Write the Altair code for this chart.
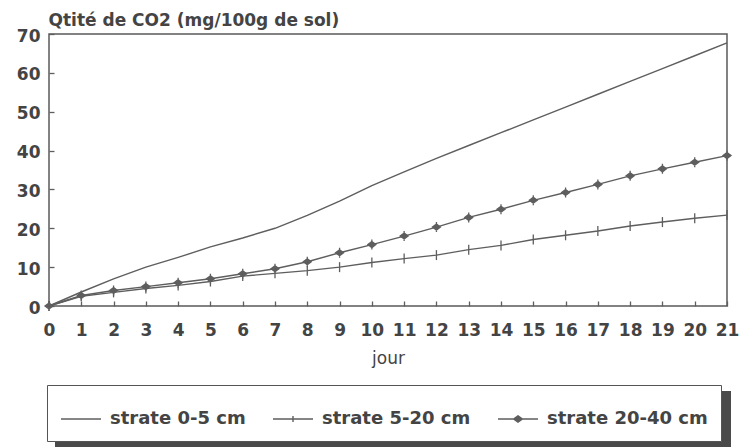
import altair as alt
import pandas as pd

# ---- data ----
days = list(range(22))
series_names = ["strate 0-5 cm", "strate 5-20 cm", "strate 20-40 cm"]
s0_5 = [0, 3.6, 7, 10, 12.5, 15.2, 17.5, 20, 23.3, 27, 31,
        34.5, 38, 41.3, 44.6, 47.9, 51.2, 54.5, 57.8, 61.1, 64.4, 67.7]
s5_20 = [0, 2.5, 3.5, 4.5, 5.3, 6.3, 7.7, 8.4, 9.1, 10, 11.2,
         12.2, 13.1, 14.5, 15.6, 17.1, 18.2, 19.3, 20.6, 21.6, 22.6, 23.4]
s20_40 = [0, 2.7, 4, 5, 6, 7, 8.3, 9.6, 11.4, 13.7, 15.8,
          18, 20.3, 22.8, 24.9, 27.2, 29.2, 31.3, 33.5, 35.3, 37, 38.7]
x_ticks = list(range(22))
y_ticks = [0, 10, 20, 30, 40, 50, 60, 70]

rows = []
for name, vals in zip(series_names, [s0_5, s5_20, s20_40]):
    for d, v in zip(days, vals):
        rows.append({"jour": d, "co2": v, "strate": name})
df = pd.DataFrame(rows)
marker_df = df[df["strate"] != series_names[0]]

FONT = "DejaVu Sans"
GRAY = "#5e5e5e"
TXT = "#444444"

x = alt.X(
    "jour:Q",
    scale=alt.Scale(domain=[0, 21], nice=False, zero=False),
    axis=alt.Axis(
        values=x_ticks, format="d", title="jour", offset=-5, tickSize=5,
        domain=False, grid=False, labelPadding=16, labelFont=FONT,
        labelFontSize=17, labelFontWeight="bold", labelColor=TXT,
        tickColor=GRAY, tickWidth=1.3, labelFlush=False, labelOverlap=False,
        titleFont=FONT, titleFontSize=17, titleFontWeight="normal",
        titleColor=TXT, titleBaseline="alphabetic", titleY=62,
    ),
)
y = alt.Y(
    "co2:Q",
    scale=alt.Scale(domain=[0, 70], nice=False),
    axis=alt.Axis(
        values=y_ticks, format="d", title="Qtité de CO2 (mg/100g de sol)",
        offset=-5, tickSize=5, domain=False, grid=False, labelPadding=9,
        labelFont=FONT, labelFontSize=17, labelFontWeight="bold",
        labelColor=TXT, tickColor=GRAY, tickWidth=1.3, labelFlush=False,
        labelOverlap=False, labelBaseline="middle", labelOffset=2,
        titleFont=FONT, titleFontSize=17, titleFontWeight="bold",
        titleColor=TXT, titleAngle=0, titleAlign="left",
        titleBaseline="alphabetic", titleX=-6, titleY=-9,
    ),
)

lines = alt.Chart(df).mark_line(color=GRAY, strokeWidth=1.4).encode(
    x=x, y=y, detail="strate:N"
)

marker_paths = ["M0,-1V1", "M0,-1V1M0,-0.6L0.8,0L0,0.6L-0.8,0Z"]
markers = alt.Chart(marker_df).mark_point(
    filled=True, fill=GRAY, stroke=GRAY, strokeWidth=1.3, opacity=1, size=100
).encode(
    x=x, y=y,
    shape=alt.Shape("strate:N",
                    scale=alt.Scale(domain=series_names[1:], range=marker_paths),
                    legend=None),
)

legend_paths = [
    "M-1,0H1",
    "M-1,0H1M0,-0.15V0.15",
    "M-1,0H1M0,-0.15V0.15M0,-0.16L0.22,0L0,0.16L-0.22,0Z",
]
legend_layer = alt.Chart(df).mark_point(
    filled=True, fill=GRAY, stroke=GRAY, strokeWidth=1.4, opacity=0
).encode(
    x=x, y=y,
    shape=alt.Shape(
        "strate:N",
        scale=alt.Scale(domain=series_names, range=legend_paths),
        legend=alt.Legend(
            title=None, orient="none", legendX=-2, legendY=351,
            direction="horizontal", padding=13, strokeColor="#555555",
            fillColor="white", symbolSize=1600, symbolOpacity=1,
            symbolStrokeWidth=1.4, columnPadding=24, labelOffset=8,
            labelFont=FONT, labelFontSize=18, labelFontWeight="bold",
            labelColor=TXT, labelLimit=300, zindex=1,
        ),
    ),
)

# decorative drop shadow behind the legend box
shadow = alt.Chart(pd.DataFrame({"k": [0]})).mark_rect(
    color="#4a4a4a", clip=False
).encode(
    x=alt.value(6), x2=alt.value(682), y=alt.value(357), y2=alt.value(413)
)

chart = (
    alt.layer(shadow, lines, markers, legend_layer)
    .resolve_scale(shape="independent")
    .properties(
        width=678, height=272,
        padding={"left": 49, "top": 34, "right": 16, "bottom": 141},
        autosize=alt.AutoSizeParams(type="none"),
        background="white",
    )
    .configure_view(stroke="#5a5a5a", strokeWidth=1.5)
)

chart.save("out.html", embed_options={"renderer": "svg", "actions": False})
